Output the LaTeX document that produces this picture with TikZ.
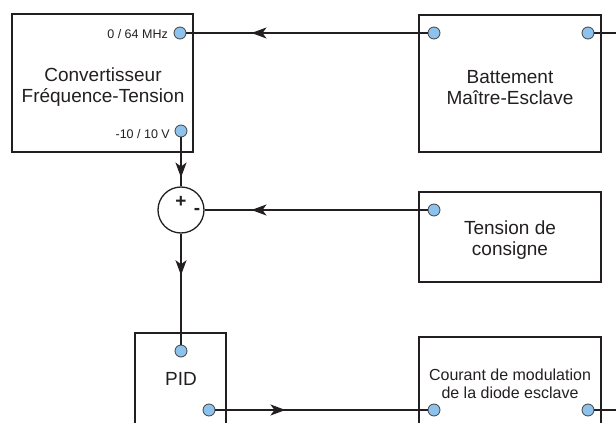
\documentclass[tikz,border=0pt]{standalone}
\usepackage{fontspec}
\setmainfont{Liberation Sans}
\usetikzlibrary{arrows.meta,decorations.markings}
\definecolor{portbleu}{RGB}{140,194,236}
\definecolor{trait}{RGB}{35,31,32}

\tikzset{
  bloc/.style={draw=trait, line width=1.2pt, inner sep=0pt},
  port/.style={circle, draw=trait!85, fill=portbleu, line width=0.8pt, minimum size=12pt, inner sep=0pt},
  liaison/.style={draw=trait, line width=1.3pt},
  fleche/.style={postaction={decorate, decoration={markings,
      mark=at position #1 with {\arrow{Stealth[length=15pt,width=11pt,inset=4pt]}}}}},
  texte/.style={font=\fontsize{19}{21}\selectfont, text=trait, align=center},
  petit/.style={font=\fontsize{12.5}{14}\selectfont, text=trait, inner sep=0pt},
  signe/.style={font=\fontsize{19}{19}\selectfont\bfseries, text=trait, inner sep=0pt},
}

\begin{document}
\begin{tikzpicture}[x=1pt, y=-1pt]
  \useasboundingbox (0,0) rectangle (616,423);
  \clip (0,0) rectangle (616,423);

  % Blocs
  \node[bloc, minimum width=181pt, minimum height=138pt] (conv) at (102.5,83) {};
  \node[bloc, minimum width=182pt, minimum height=137pt] (batt) at (510,83.5) {};
  \node[bloc, minimum width=182pt, minimum height=90pt] (cons) at (510,237) {};
  \node[bloc, minimum width=91pt, minimum height=134pt] (pid) at (180.5,400) {};
  \node[bloc, minimum width=182pt, minimum height=132pt] (cour) at (510,403) {};

  % Textes des blocs
  \node[texte] (convtxt) at (103,87) {Convertisseur\\Fréquence-Tension};
  \node[texte] (batttxt) at (510,88) {Battement\\Maître-Esclave};
  \node[texte] (constxt) at (510,240) {Tension de\\consigne};
  \node[texte] (pidtxt) at (181,379) {PID};
  \node[texte, font=\fontsize{16}{17.5}\selectfont] (courtxt) at (510,384) {Courant de modulation\\de la diode esclave};

  % Sommateur
  \node[circle, draw=trait, line width=1.3pt, minimum size=46pt, inner sep=0pt] (som) at (181,210) {};
  \node[signe] (plus) at (181,202) {+};
  \node[signe] (moins) at (197,211) {-};

  % Ports
  \node[port] (convA) at (180,33) {};
  \node[port] (convB) at (181,131) {};
  \node[port] (battA) at (434,33) {};
  \node[port] (battB) at (588,33) {};
  \node[port] (consA) at (434,210) {};
  \node[port] (pidA) at (181,351) {};
  \node[port] (pidB) at (209,410) {};
  \node[port] (courA) at (434,410) {};
  \node[port] (courB) at (588,410) {};
  \coordinate (bordA) at (616,33);
  \coordinate (bordB) at (616,410);

  % Etiquettes des ports
  \node[petit, anchor=base east] (lblA) at (168,38) {0 / 64 MHz};
  \node[petit, anchor=base east] (lblB) at (170,138) {-10 / 10 V};

  % Liaisons
  \draw[liaison, fleche=0.73] (battA.west) -- (convA.east);
  \draw[liaison] (battB.east) -- (bordA);
  \draw[liaison, fleche=0.79] (consA.west) -- (som.east);
  \draw[liaison, fleche=0.82] (convB.south) -- (som.north);
  \draw[liaison, fleche=0.375] (som.south) -- (pidA.north);
  \draw[liaison, fleche=0.33] (pidB.east) -- (courA.west);
  \draw[liaison] (courB.east) -- (bordB);
\end{tikzpicture}
\end{document}
